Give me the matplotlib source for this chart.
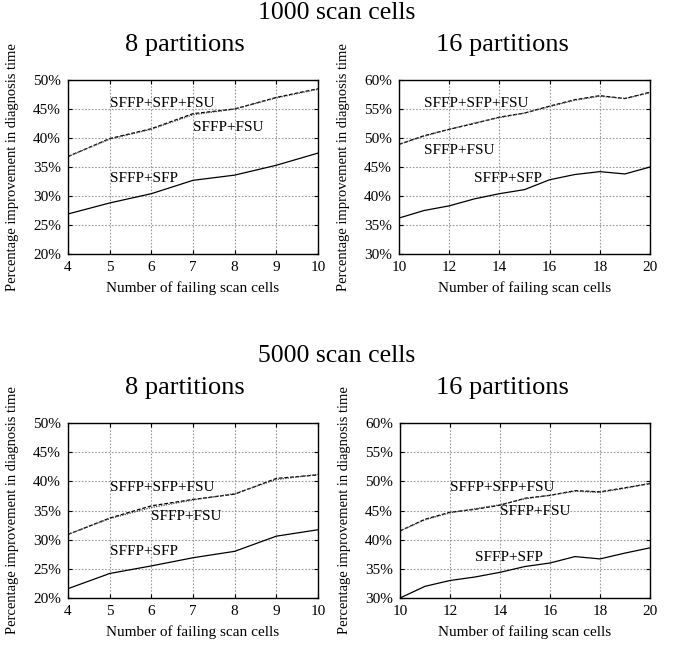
import numpy as np
import matplotlib as mpl
mpl.use("Agg")
from matplotlib import pyplot as plt
from matplotlib.ticker import FuncFormatter

mpl.rcParams.update({
    "font.family": "serif",
    "font.serif": ["Liberation Serif", "DejaVu Serif"],
    "font.size": 10.5,
})

# --- data ---
x8 = [4, 5, 6, 7, 8, 9, 10]
x16 = [10, 11, 12, 13, 14, 15, 16, 17, 18, 19, 20]

# 1000 scan cells, 8 partitions
c1000_p8_sfp = [26.9, 28.8, 30.4, 32.7, 33.6, 35.3, 37.4]
c1000_p8_sfp_fsu = [36.8, 39.9, 41.6, 44.2, 45.0, 47.0, 48.5]
c1000_p8_fsu = [36.8, 39.8, 41.5, 44.0, 45.0, 46.9, 48.4]

# 1000 scan cells, 16 partitions
c1000_p16_sfp = [36.2, 37.5, 38.3, 39.5, 40.4, 41.1, 42.8, 43.7, 44.2, 43.8, 45.0]
c1000_p16_sfp_fsu = [48.9, 50.4, 51.5, 52.5, 53.6, 54.3, 55.5, 56.6, 57.3, 56.8, 57.9]
c1000_p16_fsu = [48.9, 50.3, 51.5, 52.6, 53.5, 54.3, 55.4, 56.5, 57.2, 56.8, 57.8]

# 5000 scan cells, 8 partitions
c5000_p8_sfp = [21.6, 24.2, 25.5, 26.9, 28.0, 30.6, 31.7]
c5000_p8_sfp_fsu = [30.9, 33.7, 35.8, 36.9, 37.8, 40.5, 41.1]
c5000_p8_fsu = [30.9, 33.6, 35.5, 36.8, 37.9, 40.3, 41.2]

# 5000 scan cells, 16 partitions
c5000_p16_sfp = [30.0, 32.0, 33.0, 33.6, 34.4, 35.4, 36.0, 37.1, 36.7, 37.7, 38.6]
c5000_p16_sfp_fsu = [41.5, 43.5, 44.7, 45.2, 45.9, 47.1, 47.6, 48.4, 48.2, 48.9, 49.6]
c5000_p16_fsu = [41.5, 43.4, 44.6, 45.3, 46.0, 47.0, 47.6, 48.3, 48.1, 48.8, 49.7]

panels = [
    # axes rect (px), x, (sfp, sfp_fsu, fsu), ylim, xticks, label positions
    ([68, 80, 318, 254], x8, (c1000_p8_sfp, c1000_p8_sfp_fsu, c1000_p8_fsu),
     (20, 50), [4, 5, 6, 7, 8, 9, 10],
     [(5.0, 46.0), (7.0, 41.8), (5.0, 33.1)]),
    ([399, 80, 650, 254], x16, (c1000_p16_sfp, c1000_p16_sfp_fsu, c1000_p16_fsu),
     (30, 60), [10, 12, 14, 16, 18, 20],
     [(11.0, 56.0), (11.0, 47.8), (13.0, 43.1)]),
    ([68, 423, 318, 598], x8, (c5000_p8_sfp, c5000_p8_sfp_fsu, c5000_p8_fsu),
     (20, 50), [4, 5, 6, 7, 8, 9, 10],
     [(5.0, 38.9), (6.0, 34.0), (5.0, 28.0)]),
    ([400, 423, 650, 598], x16, (c5000_p16_sfp, c5000_p16_sfp_fsu, c5000_p16_fsu),
     (30, 60), [10, 12, 14, 16, 18, 20],
     [(12.0, 48.9), (14.0, 44.9), (13.0, 36.9)]),
]

W, H = 674, 651
fig = plt.figure(figsize=(W / 100, H / 100), dpi=100)

pct = FuncFormatter(lambda v, pos: "%d%%" % v)

for rect, x, (sfp, sfp_fsu, fsu), ylim, xticks, labpos in panels:
    l, t, r, b = rect
    ax = fig.add_axes([l / W, 1 - b / H, (r - l) / W, (b - t) / H])
    ax.plot(x, sfp, color="black", lw=0.9)
    ax.plot(x, sfp_fsu, color="black", lw=0.9, dashes=(3, 1.5))
    ax.plot(x, fsu, color="#444444", lw=0.9, dashes=(1, 1))
    ax.set_xlim(x[0], x[-1])
    ax.set_ylim(*ylim)
    ax.set_xticks(xticks)
    ax.set_yticks(np.arange(ylim[0], ylim[1] + 1, 5))
    ax.yaxis.set_major_formatter(pct)
    ax.grid(True, color="#9a9a9a", lw=0.8, ls=(0, (1.5, 1.5)))
    ax.tick_params(direction="in", length=3, top=True, right=True,
                   labelsize=11, pad=5)
    for s in ax.spines.values():
        s.set_linewidth(1.0)
    ax.set_xlabel("Number of failing scan cells", fontsize=11, labelpad=5)
    ax.set_ylabel("Percentage improvement in diagnosis time", fontsize=10.5,
                  labelpad=10)
    names = ["SFFP+SFP+FSU", "SFFP+FSU", "SFFP+SFP"]
    for name, (tx, ty) in zip(names, labpos):
        ax.text(tx, ty, name, fontsize=11, ha="left", va="center")

# titles
fig.text(337 / W, 1 - 13 / H, "1000 scan cells", fontsize=18.5, ha="center", va="center")
fig.text(185 / W, 1 - 45 / H, "8 partitions", fontsize=19, ha="center", va="center")
fig.text(502 / W, 1 - 45 / H, "16 partitions", fontsize=19, ha="center", va="center")
fig.text(337 / W, 1 - 356 / H, "5000 scan cells", fontsize=18.5, ha="center", va="center")
fig.text(185 / W, 1 - 388 / H, "8 partitions", fontsize=19, ha="center", va="center")
fig.text(502 / W, 1 - 388 / H, "16 partitions", fontsize=19, ha="center", va="center")

fig.savefig("out.png", dpi=100)
